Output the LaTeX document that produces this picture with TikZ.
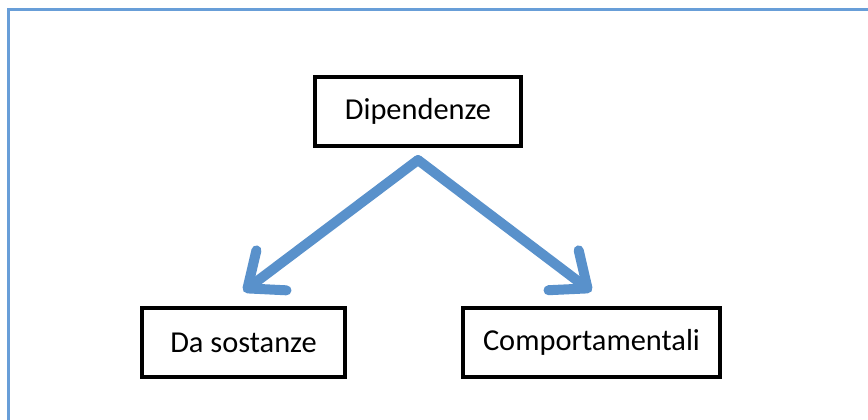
\documentclass[tikz,border=0pt]{standalone}
\usepackage{fontspec}
\setmainfont{Carlito}
\usetikzlibrary{arrows.meta}
\definecolor{arrowblue}{RGB}{89,145,203}
\definecolor{frameblue}{RGB}{104,158,216}
\tikzset{
  box/.style = {draw, line width = 1.6pt, minimum height = 34.5pt, inner sep = 0pt,
                font = \fontsize{15.2}{18}\selectfont},
  bigarrow/.style = {arrowblue, line width = 5pt, line cap = round,
                     -{Straight Barb[length = 15pt, width = 25pt, round]}}
}
\begin{document}
\begin{tikzpicture}[x = .5pt, y = -.5pt]
\useasboundingbox (0,0) rectangle (868,419);
\draw[frameblue, line width = 1.5pt] (8,440) -- (8,9) -- (880,9);

% boxes
\node[box, minimum width = 103pt] (dip) at (418,111.5) {Dipendenze};
\node[box, minimum width = 101.5pt] (sost) at (243.5,342.5) {Da sostanze};
\node[box, minimum width = 128.5pt] (comp) at (591.5,342.5) {Comportamentali};

% arrows
\coordinate (apex) at (418,160);
\draw[bigarrow] (apex) -- ([yshift = 7.5pt]sost.north);
\draw[bigarrow] (apex) -- ([yshift = 7.5pt]comp.north);
\end{tikzpicture}
\end{document}
